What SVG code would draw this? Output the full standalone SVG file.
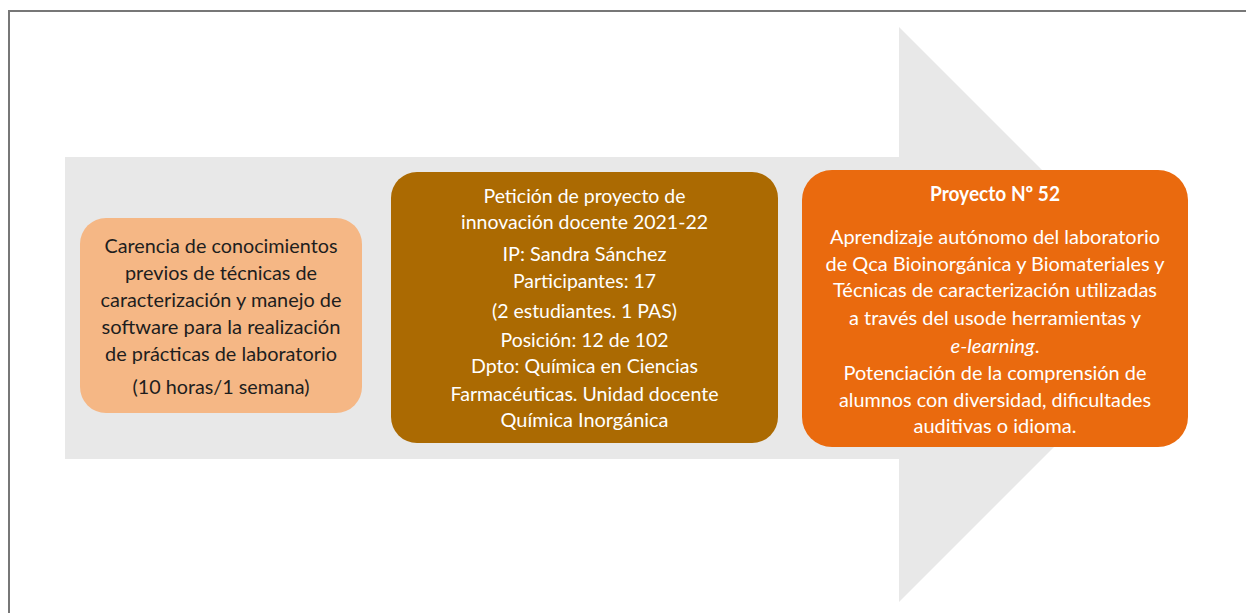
<svg xmlns="http://www.w3.org/2000/svg" width="1246" height="613" viewBox="0 0 1246 613">
  <style>
    .t { font-family: Lato, "Liberation Sans", sans-serif; font-size: 20px; text-anchor: middle; }
    .dark { fill: #1e1e1e; }
    .light { fill: #ffffff; }
    .bold { font-weight: bold; }
    .it { font-style: italic; }
    .frame { stroke: #777777; stroke-width: 2; fill: none; }
  </style>
  <rect width="1246" height="613" fill="#ffffff"/>
  <path class="frame" d="M9,613 L9,11 L1246,11"/>
  <g id="arrow">
    <path d="M65,157 L899,157 L899,27 L1186.5,314.5 L899,602 L899,459 L65,459 Z" fill="#e8e8e8"/>
  </g>
  <g id="connectors"></g>
  <g id="node1">
    <rect x="80" y="218" width="282" height="195" rx="26" fill="#f5b785"/>
    <text class="t dark" x="221" y="253" textLength="233" lengthAdjust="spacingAndGlyphs">Carencia de conocimientos</text>
    <text class="t dark" x="221" y="280" textLength="192" lengthAdjust="spacingAndGlyphs">previos de técnicas de</text>
    <text class="t dark" x="221" y="307" textLength="241" lengthAdjust="spacingAndGlyphs">caracterización y manejo de</text>
    <text class="t dark" x="221" y="334" textLength="239" lengthAdjust="spacingAndGlyphs">software para la realización</text>
    <text class="t dark" x="221" y="361" textLength="232" lengthAdjust="spacingAndGlyphs">de prácticas de laboratorio</text>
    <text class="t dark" x="221" y="394" textLength="177" lengthAdjust="spacingAndGlyphs">(10 horas/1 semana)</text>
  </g>
  <g id="node2">
    <rect x="391" y="172" width="387" height="271" rx="26" fill="#ab6a02"/>
    <text class="t light" x="584.5" y="203" textLength="202" lengthAdjust="spacingAndGlyphs">Petición de proyecto de</text>
    <text class="t light" x="584.5" y="229" textLength="247" lengthAdjust="spacingAndGlyphs">innovación docente 2021-22</text>
    <text class="t light" x="584.5" y="261" textLength="164" lengthAdjust="spacingAndGlyphs">IP: Sandra Sánchez</text>
    <text class="t light" x="584.5" y="288" textLength="143" lengthAdjust="spacingAndGlyphs">Participantes: 17</text>
    <text class="t light" x="584.5" y="318" textLength="185" lengthAdjust="spacingAndGlyphs">(2 estudiantes. 1 PAS)</text>
    <text class="t light" x="584.5" y="347" textLength="168" lengthAdjust="spacingAndGlyphs">Posición: 12 de 102</text>
    <text class="t light" x="584.5" y="373" textLength="227" lengthAdjust="spacingAndGlyphs">Dpto: Química en Ciencias</text>
    <text class="t light" x="584.5" y="401" textLength="268" lengthAdjust="spacingAndGlyphs">Farmacéuticas. Unidad docente</text>
    <text class="t light" x="584.5" y="427" textLength="168" lengthAdjust="spacingAndGlyphs">Química Inorgánica</text>
  </g>
  <g id="node3">
    <rect x="802" y="170" width="386" height="277" rx="30" fill="#ea6a0e"/>
    <text class="t light bold" x="995" y="201" textLength="130" lengthAdjust="spacingAndGlyphs">Proyecto Nº 52</text>
    <text class="t light" x="995" y="244" textLength="330" lengthAdjust="spacingAndGlyphs">Aprendizaje autónomo del laboratorio</text>
    <text class="t light" x="995" y="271" textLength="339" lengthAdjust="spacingAndGlyphs">de Qca Bioinorgánica y Biomateriales y</text>
    <text class="t light" x="995" y="297" textLength="324" lengthAdjust="spacingAndGlyphs">Técnicas de caracterización utilizadas</text>
    <text class="t light" x="995" y="325" textLength="292" lengthAdjust="spacingAndGlyphs">a través del usode herramientas y</text>
    <text class="t light" x="995" y="353" textLength="89" lengthAdjust="spacingAndGlyphs"><tspan class="it">e-learning</tspan>.</text>
    <text class="t light" x="995" y="380" textLength="303" lengthAdjust="spacingAndGlyphs">Potenciación de la comprensión de</text>
    <text class="t light" x="995" y="407" textLength="312" lengthAdjust="spacingAndGlyphs">alumnos con diversidad, dificultades</text>
    <text class="t light" x="995" y="433" textLength="163" lengthAdjust="spacingAndGlyphs">auditivas o idioma.</text>
  </g>
</svg>
